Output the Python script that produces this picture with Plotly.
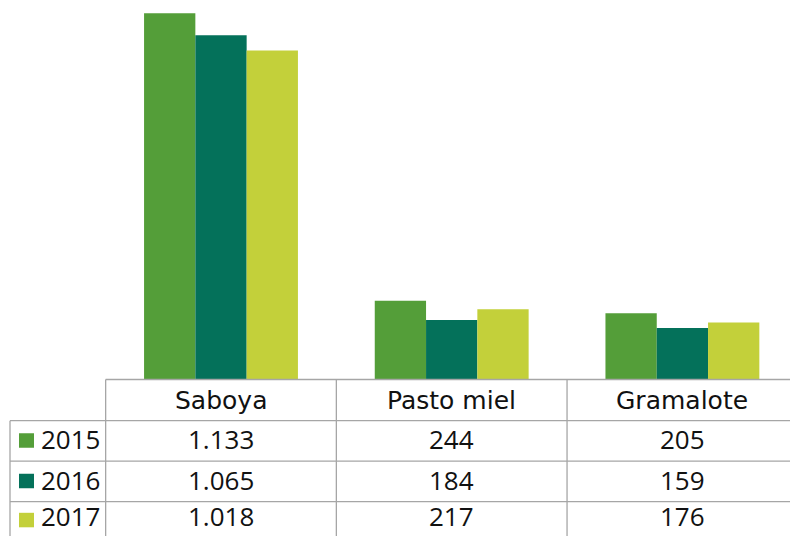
import plotly.graph_objects as go

categories = ["Saboya", "Pasto miel", "Gramalote"]
years = ["2015", "2016", "2017"]
values_2015 = [1133, 244, 205]
values_2016 = [1065, 184, 159]
values_2017 = [1018, 217, 176]
series = [values_2015, values_2016, values_2017]
colors = ["#549E39", "#04715A", "#C3D03A"]

W, H = 790, 536
FONT = "DejaVu Sans"
NUM_FONT = "Open Sans"
FS = 25
NFS = 26
TXT = "#111111"
GRID = "#A6A6A6"

fig = go.Figure()
for yr, vals, col in zip(years, series, colors):
    fig.add_trace(go.Bar(x=list(range(len(categories))), y=vals, name=yr,
                         marker=dict(color=col, line=dict(width=0)),
                         showlegend=False))


def py(p):
    return 1 - p / H


def px(p):
    return p / W


cat_w = 230.7          # pixels per category
cat0 = 221             # centre of first category (pixels)
base_px = 379.5
px_per_unit = 0.3232
row_edges = [379.5, 420.7, 461.2, 501.7, 542.0]

fig.update_layout(
    width=W, height=H,
    margin=dict(l=0, r=0, t=0, b=0),
    paper_bgcolor="white", plot_bgcolor="white",
    barmode="group", bargap=0.333, bargroupgap=0,
    font=dict(family=FONT, size=FS, color=TXT),
    xaxis=dict(range=[-cat0 / cat_w, (W - cat0) / cat_w], showticklabels=False,
               showgrid=False, zeroline=False, showline=False, fixedrange=True),
    yaxis=dict(range=[0, base_px / px_per_unit], domain=[py(base_px), 1],
               showticklabels=False, showgrid=False, zeroline=False,
               showline=False, fixedrange=True),
)

shapes = []
line = dict(color=GRID, width=1.3)
shapes.append(dict(type="line", xref="x", yref="paper", x0=-0.5, x1=3.2,
                   y0=py(row_edges[0]), y1=py(row_edges[0]), line=line))
for e in row_edges[1:4]:
    shapes.append(dict(type="line", xref="paper", yref="paper", x0=px(10), x1=1.01,
                       y0=py(e), y1=py(e), line=line))
shapes.append(dict(type="line", xref="paper", yref="paper", x0=px(10), x1=px(10),
                   y0=py(row_edges[1]), y1=-0.02, line=line))
for i in range(len(categories) + 1):
    shapes.append(dict(type="line", xref="x", yref="paper", x0=i - 0.5, x1=i - 0.5,
                       y0=py(row_edges[0]), y1=-0.02, line=line))

annotations = []
for i, c in enumerate(categories):
    yc = (row_edges[0] + row_edges[1]) / 2
    annotations.append(dict(x=i, y=py(yc), xref="x", yref="paper", text=c,
                            showarrow=False, xanchor="center", yanchor="middle",
                            font=dict(family=FONT, size=FS, color=TXT)))

n_rows = len(years)
for r, (yr, vals, col) in enumerate(zip(years, series, colors)):
    yc = (row_edges[r + 1] + row_edges[r + 2]) / 2
    last = r == n_rows - 1
    # the last row is cut by the bottom edge: anchor its text at the bottom
    ty = 0 if last else py(yc - 1.5)
    tanchor = "bottom" if last else "middle"
    sq_c = 520.5 if last else yc
    shapes.append(dict(type="rect", xref="paper", yref="paper",
                       x0=px(19), x1=px(34), y0=py(sq_c + 6.8), y1=py(sq_c - 7.7),
                       fillcolor=col, line=dict(width=0)))
    annotations.append(dict(x=px(39), y=ty, xref="paper", yref="paper", text=yr,
                            showarrow=False, xanchor="left", yanchor=tanchor,
                            font=dict(family=NUM_FONT, size=NFS, color=TXT)))
    for i, v in enumerate(vals):
        annotations.append(dict(x=i, y=ty, xref="x", yref="paper",
                                text=f"{v:,}".replace(",", "."),
                                showarrow=False, xanchor="center", yanchor=tanchor,
                                font=dict(family=NUM_FONT, size=NFS, color=TXT)))

fig.update_layout(shapes=shapes, annotations=annotations)
fig.write_html("out.html",
               config={"displayModeBar": False},
               post_script="document.body.style.margin='0';"
                           "document.body.style.overflow='hidden';")
